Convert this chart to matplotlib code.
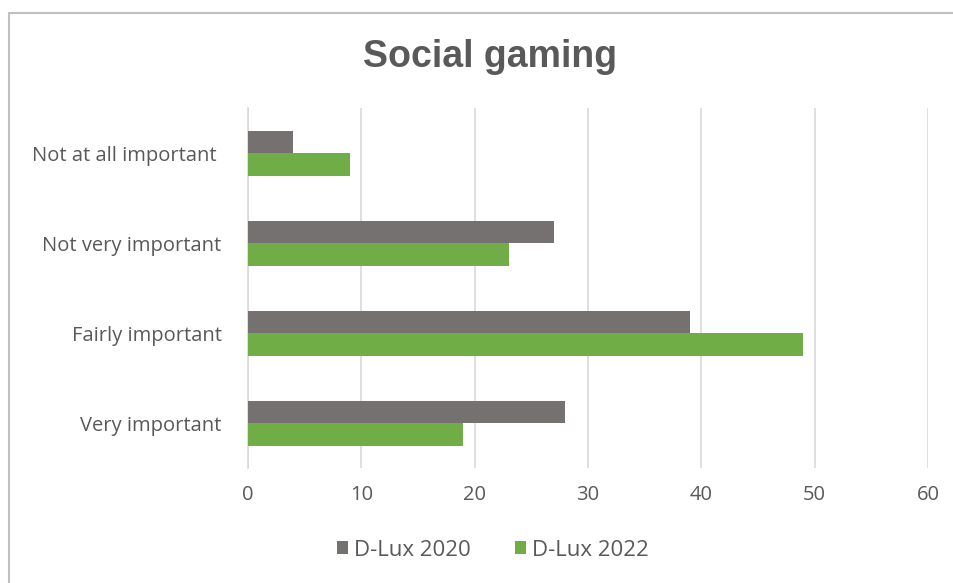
import matplotlib.pyplot as plt
import numpy as np
from matplotlib.patches import Rectangle

# data
categories = ['Not at all important ', 'Not very important', 'Fairly important', 'Very important']
dlux_2020 = [4, 27, 39, 28]
dlux_2022 = [9, 23, 49, 19]
series_names = ['D-Lux 2020', 'D-Lux 2022']

gray = '#767171'
green = '#70AD47'
text_col = '#595959'

plt.rcParams['font.family'] = ['Open Sans', 'DejaVu Sans']

fig = plt.figure(figsize=(9.54, 5.83), dpi=100)
ax = fig.add_axes([248/954, (583-468)/583, (928-248)/954, 360/583])

y = np.arange(len(categories))
h = 0.25
ax.barh(y - h/2, dlux_2020, height=h, color=gray, label=series_names[0], zorder=3)
ax.barh(y + h/2, dlux_2022, height=h, color=green, label=series_names[1], zorder=3)

ax.set_xlim(0, 60)
ax.set_ylim(3.5, -0.5)
ax.set_xticks(range(0, 61, 10))
ax.set_yticks(y)
ax.set_yticklabels(categories)
ax.grid(axis='x', color='#d9d9d9', linewidth=1.2, zorder=0)
for s in ['top', 'right', 'bottom']:
    ax.spines[s].set_visible(False)
ax.spines['left'].set_color('#d9d9d9')
ax.spines['left'].set_linewidth(1.2)
ax.tick_params(axis='both', length=0, labelsize=14.5, colors=text_col)
ax.tick_params(axis='y', pad=19)
ax.tick_params(axis='x', pad=12)

fig.text(490/954, 1 - 57/583, 'Social gaming', ha='center', va='center',
         fontsize=27, fontweight='bold', color=text_col, family='Liberation Sans')

leg = fig.legend(loc='center', bbox_to_anchor=(493/954, 1 - 550/583), ncol=2,
                 frameon=False, fontsize=16, handlelength=0.5, handleheight=0.5,
                 handletextpad=0.25, columnspacing=2.0, labelcolor=text_col)

# chart border
fig.patches.append(Rectangle((9/954, -0.05), 1.0, 1 - 13/583 + 0.05,
                             transform=fig.transFigure, fill=False,
                             edgecolor='#bfbfbf', linewidth=1.5))

fig.savefig('out.png', dpi=100)
